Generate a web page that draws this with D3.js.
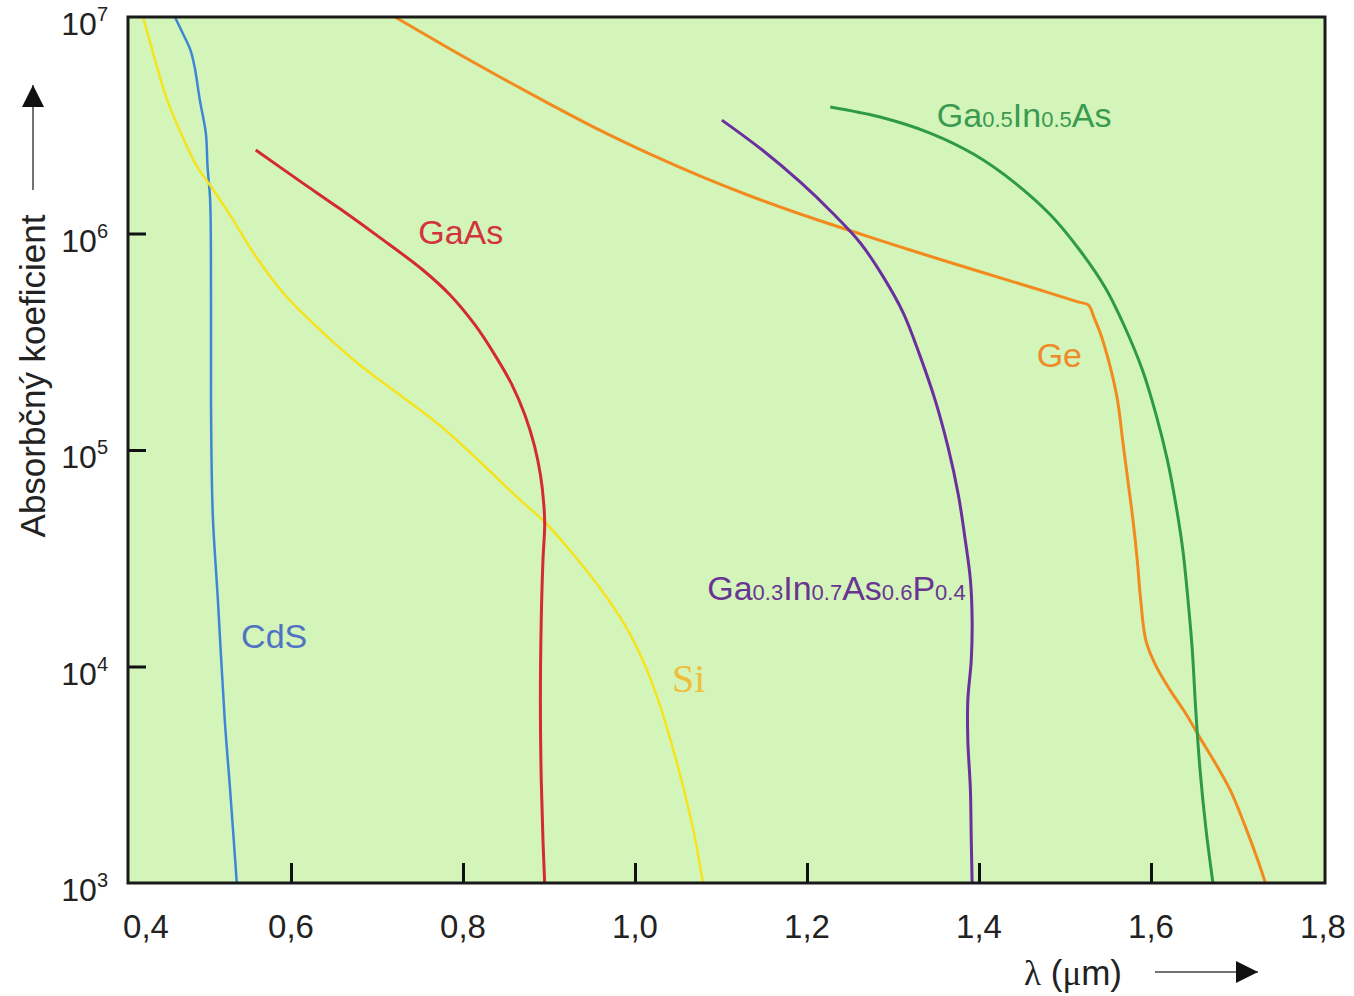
<!DOCTYPE html>
<html>
<head>
<meta charset="utf-8">
<script src="https://cdn.jsdelivr.net/npm/d3@7"></script>
<style>
  body { margin: 0; background: #ffffff; }
  text { font-family: "Liberation Sans", Arial, sans-serif; }
</style>
</head>
<body>
<div id="chart"></div>
<script>
// Wavelength (um) and absorption coefficient, one pair of arrays per material
var cdsLambda = [0.465, 0.474, 0.483, 0.488, 0.494, 0.501, 0.503, 0.506, 0.507, 0.507, 0.509, 0.515, 0.523, 0.529, 0.537];
var cdsAlpha = [1e7, 8.43e6, 7.05e6, 5.87e6, 4.14e6, 2.91e6, 2.03e6, 1.43e6, 4.93e5, 1.7e5, 5.12e4, 2.03e4, 5.66e3, 2.77e3, 1e3];

var gaasLambda = [0.559, 0.610, 0.657, 0.703, 0.753, 0.785, 0.814, 0.837, 0.857, 0.872, 0.883, 0.890, 0.894, 0.895, 0.893, 0.891, 0.890, 0.891, 0.893, 0.895];
var gaasAlpha = [2.43e6, 1.75e6, 1.3e6, 9.6e5, 6.8e5, 5.2e5, 3.78e5, 2.75e5, 2.0e5, 1.45e5, 1.05e5, 7.7e4, 5.6e4, 4.5e4, 3.1e4, 1.64e4, 7.0e3, 3.0e3, 1.58e3, 1e3];

var siLambda = [0.428, 0.442, 0.456, 0.473, 0.491, 0.506, 0.529, 0.558, 0.593, 0.634, 0.680, 0.727, 0.773, 0.820, 0.866, 0.895, 0.924, 0.959, 0.988, 1.009, 1.027, 1.043, 1.057, 1.069, 1.079];
var siAlpha = [1e7, 6.33e6, 4.14e6, 2.85e6, 2.03e6, 1.67e6, 1.22e6, 7.96e5, 5.2e5, 3.58e5, 2.47e5, 1.79e5, 1.3e5, 8.8e4, 5.9e4, 4.65e4, 3.45e4, 2.31e4, 1.56e4, 1.07e4, 7.0e3, 4.34e3, 2.69e3, 1.67e3, 1e3];

var gainasLambda = [1.101, 1.148, 1.192, 1.230, 1.262, 1.288, 1.312, 1.331, 1.349, 1.364, 1.376, 1.384, 1.390, 1.392, 1.391, 1.387, 1.387, 1.390, 1.391, 1.392];
var gainasAlpha = [3.34e6, 2.43e6, 1.73e6, 1.24e6, 9.04e5, 6.37e5, 4.29e5, 2.75e5, 1.7e5, 1.03e5, 6.2e4, 3.84e4, 2.51e4, 1.64e4, 1.07e4, 7.0e3, 4.58e3, 2.69e3, 1.58e3, 1e3];

var ingaasLambda = [1.227, 1.285, 1.343, 1.395, 1.442, 1.483, 1.517, 1.547, 1.570, 1.590, 1.606, 1.619, 1.629, 1.637, 1.643, 1.648, 1.652, 1.657, 1.664, 1.672];
var ingaasAlpha = [3.84e6, 3.45e6, 2.91e6, 2.31e6, 1.71e6, 1.22e6, 8.39e5, 5.6e5, 3.66e5, 2.34e5, 1.45e5, 9.0e4, 5.57e4, 3.45e4, 2.03e4, 1.19e4, 6.3e3, 3.33e3, 1.76e3, 1e3];

var geLambda = [0.721, 0.785, 0.843, 0.901, 0.959, 1.017, 1.076, 1.134, 1.192, 1.262, 1.331, 1.410, 1.471, 1.515, 1.527, 1.534, 1.541, 1.552, 1.561, 1.567, 1.573, 1.579, 1.584, 1.588, 1.594, 1.605, 1.622, 1.640, 1.657, 1.674, 1.692, 1.709, 1.724, 1.733];
var geAlpha = [1e7, 7.11e6, 5.28e6, 3.96e6, 3.0e6, 2.33e6, 1.84e6, 1.49e6, 1.23e6, 9.95e5, 8.13e5, 6.5e5, 5.48e5, 4.83e5, 4.68e5, 4.07e5, 3.47e5, 2.47e5, 1.7e5, 1.11e5, 7.27e4, 4.75e4, 3.1e4, 2.03e4, 1.32e4, 1.02e4, 7.8e3, 6.1e3, 4.68e3, 3.62e3, 2.69e3, 1.85e3, 1.28e3, 1e3];

// Tick values and their printed labels
var xTicks = [0.4, 0.6, 0.8, 1.0, 1.2, 1.4, 1.6, 1.8];
var xTickLabels = ["0,4", "0,6", "0,8", "1,0", "1,2", "1,4", "1,6", "1,8"];
var yTicks = [1e3, 1e4, 1e5, 1e6, 1e7];
var yTickExponents = ["3", "4", "5", "6", "7"];

// Curve labels: text pieces (subscripts flagged) and the data point where they start
var labels = [
  { parts: [["CdS", 0]], at: [0.542, 1.22e4], color: "#4f72c4", serif: false },
  { parts: [["GaAs", 0]], at: [0.748, 8.9e5], color: "#d2333d", serif: false },
  { parts: [["Si", 0]], at: [1.043, 7.6e3], color: "#efbd3a", serif: true },
  { parts: [["Ga", 0], ["0.3", 1], ["In", 0], ["0.7", 1], ["As", 0], ["0.6", 1], ["P", 0], ["0.4", 1]], at: [1.084, 2.03e4], color: "#6a3592", serif: false },
  { parts: [["Ga", 0], ["0.5", 1], ["In", 0], ["0.5", 1], ["As", 0]], at: [1.351, 3.1e6], color: "#3a9a50", serif: false },
  { parts: [["Ge", 0]], at: [1.467, 2.42e5], color: "#ee8a2a", serif: false }
];

var series = [
  { lambda: cdsLambda, alpha: cdsAlpha, color: "#3d86d8", width: 2.5 },
  { lambda: siLambda, alpha: siAlpha, color: "#f7e21e", width: 2.5 },
  { lambda: gaasLambda, alpha: gaasAlpha, color: "#d42a32", width: 3 },
  { lambda: geLambda, alpha: geAlpha, color: "#f28a1e", width: 3 },
  { lambda: gainasLambda, alpha: gainasAlpha, color: "#6b2fa0", width: 3 },
  { lambda: ingaasLambda, alpha: ingaasAlpha, color: "#2e9a48", width: 3 }
];

// SVG area
var svgWidth = 1354;
var svgHeight = 996;
var plot = { left: 128, right: 1325, top: 17, bottom: 883 };

var svg = d3.select("#chart")
  .append("svg")
  .attr("width", svgWidth)
  .attr("height", svgHeight);

// Scales
var xScale = d3.scaleLinear()
  .domain([0.4105, 1.8023])
  .range([plot.left, plot.right]);

var yScale = d3.scaleLog()
  .domain([1e3, 1e7])
  .range([plot.bottom, plot.top]);

// Plot background
svg.append("rect")
  .attr("x", plot.left)
  .attr("y", plot.top)
  .attr("width", plot.right - plot.left)
  .attr("height", plot.bottom - plot.top)
  .attr("fill", "#d3f5b9");

// Clip curves to plot area
svg.append("clipPath")
  .attr("id", "plotClip")
  .append("rect")
  .attr("x", plot.left)
  .attr("y", plot.top)
  .attr("width", plot.right - plot.left)
  .attr("height", plot.bottom - plot.top);

var drawLine = d3.line()
  .x(d => xScale(d[0]))
  .y(d => yScale(d[1]))
  .curve(d3.curveCatmullRom.alpha(0.5));

svg.append("g")
  .attr("clip-path", "url(#plotClip)")
  .selectAll("path")
  .data(series)
  .enter()
  .append("path")
  .attr("d", s => drawLine(s.lambda.map((l, i) => [l, s.alpha[i]])))
  .attr("fill", "none")
  .attr("stroke", s => s.color)
  .attr("stroke-width", s => s.width)
  .attr("stroke-linejoin", "round");

// Inner tick marks (axis with inward ticks, no labels)
var bottomAxis = d3.axisBottom(xScale)
  .tickValues(xTicks.slice(1, -1))
  .tickSizeInner(-20)
  .tickSizeOuter(0)
  .tickFormat("");

svg.append("g")
  .attr("transform", "translate(0," + plot.bottom + ")")
  .call(bottomAxis)
  .call(g => g.select(".domain").remove())
  .call(g => g.selectAll("line").attr("stroke", "#111").attr("stroke-width", 3));

var leftAxis = d3.axisLeft(yScale)
  .tickValues(yTicks.slice(1, -1))
  .tickSizeInner(-18)
  .tickSizeOuter(0)
  .tickFormat("");

svg.append("g")
  .attr("transform", "translate(" + plot.left + ",0)")
  .call(leftAxis)
  .call(g => g.select(".domain").remove())
  .call(g => g.selectAll("line").attr("stroke", "#111").attr("stroke-width", 3));

// Frame
svg.append("rect")
  .attr("x", plot.left)
  .attr("y", plot.top)
  .attr("width", plot.right - plot.left)
  .attr("height", plot.bottom - plot.top)
  .attr("fill", "none")
  .attr("stroke", "#1a1a1a")
  .attr("stroke-width", 3);

// X tick labels (0,4 sits a little inside the frame, like the original)
svg.selectAll(".xlabel")
  .data(xTicks)
  .enter()
  .append("text")
  .attr("class", "xlabel")
  .attr("x", d => Math.max(xScale(d), plot.left + 18))
  .attr("y", 938)
  .attr("text-anchor", "middle")
  .style("font-size", "33px")
  .style("fill", "#222")
  .text((d, i) => xTickLabels[i]);

// Y tick labels with superscript exponents
var yLabel = svg.selectAll(".ylabel")
  .data(yTicks)
  .enter()
  .append("text")
  .attr("class", "ylabel")
  .attr("x", 108)
  .attr("y", d => yScale(d) + 18)
  .attr("text-anchor", "end")
  .style("fill", "#222");

yLabel.append("tspan")
  .style("font-size", "32px")
  .text("10");

yLabel.append("tspan")
  .attr("dy", -14)
  .style("font-size", "20px")
  .text((d, i) => yTickExponents[i]);

// Axis titles with arrows
svg.append("defs")
  .append("marker")
  .attr("id", "arrowHead")
  .attr("viewBox", "0 0 10 10")
  .attr("refX", 10)
  .attr("refY", 5)
  .attr("markerWidth", 26)
  .attr("markerHeight", 22)
  .attr("markerUnits", "userSpaceOnUse")
  .attr("orient", "auto")
  .append("path")
  .attr("d", "M0,0 L10,5 L0,10 z")
  .attr("fill", "#111");

var xTitle = svg.append("text")
  .attr("x", 1024)
  .attr("y", 985)
  .style("font-size", "35px")
  .style("fill", "#222");

xTitle.append("tspan").style("font-family", "'Liberation Serif', serif").text("λ");
xTitle.append("tspan").text(" (");
xTitle.append("tspan").style("font-family", "'Liberation Serif', serif").text("μ");
xTitle.append("tspan").text("m)");

svg.append("line")
  .attr("x1", 1155)
  .attr("y1", 972)
  .attr("x2", 1258)
  .attr("y2", 972)
  .attr("stroke", "#444")
  .attr("stroke-width", 1.5)
  .attr("marker-end", "url(#arrowHead)");

svg.append("text")
  .attr("transform", "translate(45,376) rotate(-90)")
  .attr("text-anchor", "middle")
  .style("font-size", "35px")
  .style("fill", "#222")
  .text("Absorbčný koeficient");

svg.append("line")
  .attr("x1", 33)
  .attr("y1", 190)
  .attr("x2", 33)
  .attr("y2", 85)
  .attr("stroke", "#444")
  .attr("stroke-width", 1.5)
  .attr("marker-end", "url(#arrowHead)");

// Curve labels
labels.forEach(function(lab) {
  var t = svg.append("text")
    .attr("x", xScale(lab.at[0]))
    .attr("y", yScale(lab.at[1]))
    .style("fill", lab.color)
    .style("font-family", lab.serif ? "'Liberation Serif', serif" : null);
  lab.parts.forEach(function(p) {
    t.append("tspan")
      .style("font-size", p[1] ? "22px" : (lab.serif ? "40px" : "34px"))
      .text(p[0]);
  });
});
</script>
</body>
</html>
